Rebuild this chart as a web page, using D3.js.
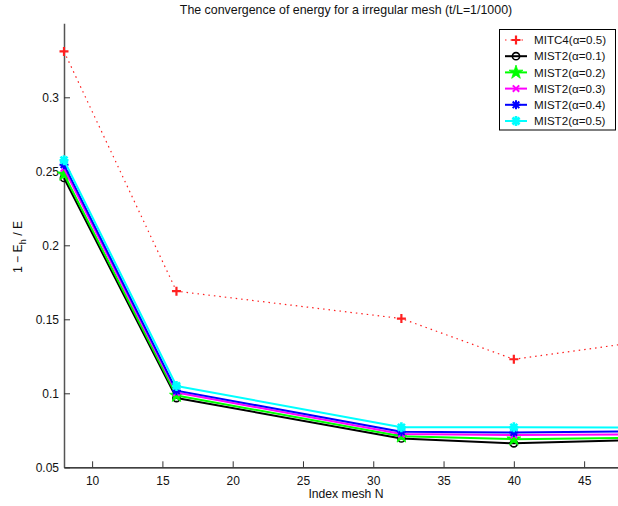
<!DOCTYPE html>
<html>
<head>
<meta charset="utf-8">
<script src="https://cdn.jsdelivr.net/npm/d3@7"></script>
<style>
  html, body { margin: 0; padding: 0; background: #fff; }
  svg { display: block; font-family: "Liberation Sans", Arial, sans-serif; }
</style>
</head>
<body>
<svg id="chart" width="618" height="506"></svg>
<script>
// ---- data ----
const meshN = [8, 16, 32, 40, 48];
const mitc4_a05 = [0.331, 0.169, 0.1505, 0.123, 0.1335];
const mist2_a01 = [0.2455, 0.0968, 0.0695, 0.0662, 0.0682];
const mist2_a02 = [0.2480, 0.0985, 0.0710, 0.0690, 0.0698];
const mist2_a03 = [0.2520, 0.1005, 0.0725, 0.0718, 0.0722];
const mist2_a04 = [0.2545, 0.1018, 0.0740, 0.0735, 0.0743];
const mist2_a05 = [0.2575, 0.1050, 0.0770, 0.0770, 0.0768];
const seriesNames = ["MITC4(α=0.5)", "MIST2(α=0.1)", "MIST2(α=0.2)", "MIST2(α=0.3)", "MIST2(α=0.4)", "MIST2(α=0.5)"];
const xTicks = [10, 15, 20, 25, 30, 35, 40, 45];
const yTicks = [0.05, 0.1, 0.15, 0.2, 0.25, 0.3];
const yTickLabels = ["0.05", "0.1", "0.15", "0.2", "0.25", "0.3"];
const titleText = "The convergence of energy for a irregular mesh (t/L=1/1000)";
const xLabelText = "Index mesh N";

// ---- setup ----
const svg = d3.select("#chart");
const mLeft = 64, mRight = 626.3, mTop = 23.3, mBottom = 467.3;
const x = d3.scaleLinear().domain([8, 48]).range([mLeft, mRight]);
const y = d3.scaleLinear().domain([0.05, 0.35]).range([mBottom, mTop]);

const series = [
  {name: seriesNames[0], values: mitc4_a05, color: "#ff2020", width: 1.2, dash: "1.5,4", marker: "plus"},
  {name: seriesNames[1], values: mist2_a01, color: "#000000", width: 2, dash: null, marker: "circle"},
  {name: seriesNames[2], values: mist2_a02, color: "#00ff00", width: 2, dash: null, marker: "pentagram"},
  {name: seriesNames[3], values: mist2_a03, color: "#ff00ff", width: 2, dash: null, marker: "x"},
  {name: seriesNames[4], values: mist2_a04, color: "#0000ff", width: 2, dash: null, marker: "asterisk"},
  {name: seriesNames[5], values: mist2_a05, color: "#00ffff", width: 2, dash: null, marker: "hexagram"}
];

function drawMarker(g, type, color, cx, cy) {
  const m = g.append("g").attr("transform", `translate(${cx},${cy})`);
  const s = 4.5;
  if (type === "plus") {
    m.append("path").attr("d", `M${-s},0H${s}M0,${-s}V${s}`).attr("stroke", color).attr("stroke-width", 2.2).attr("fill", "none");
  } else if (type === "circle") {
    m.append("circle").attr("r", 3.6).attr("fill", "none").attr("stroke", color).attr("stroke-width", 1.6);
  } else if (type === "pentagram") {
    m.append("path").attr("d", d3.symbol().type(d3.symbolStar).size(60)()).attr("fill", color).attr("stroke", color).attr("stroke-width", 0.8);
  } else if (type === "x") {
    const k = 3.2;
    m.append("path").attr("d", `M${-k},${-k}L${k},${k}M${-k},${k}L${k},${-k}`).attr("stroke", color).attr("stroke-width", 2).attr("fill", "none");
  } else if (type === "asterisk") {
    const k = 3.3;
    m.append("path").attr("d", `M${-s},0H${s}M0,${-s}V${s}M${-k},${-k}L${k},${k}M${-k},${k}L${k},${-k}`).attr("stroke", color).attr("stroke-width", 2).attr("fill", "none");
  } else if (type === "hexagram") {
    const k = 3.5;
    m.append("path").attr("d", `M${-s},0H${s}M0,${-s-0.5}V${s+0.5}M${-k},${-k}L${k},${k}M${-k},${k}L${k},${-k}`).attr("stroke", color).attr("stroke-width", 2.6).attr("fill", "none");
    m.append("circle").attr("r", 2.6).attr("fill", color);
  }
}

// ---- axes (drawn beneath the data) ----
const xAxis = d3.axisBottom(x).tickValues(xTicks).tickSize(-6).tickPadding(9).tickSizeOuter(0).tickFormat(d3.format("d"));
const gx = svg.append("g").attr("transform", `translate(0,${mBottom})`).call(xAxis);
gx.select(".domain").attr("stroke", "#000").attr("stroke-width", 1.2);
gx.selectAll(".tick line").attr("stroke", "#333");
gx.selectAll("text").attr("font-size", 12).attr("fill", "#111");

const yAxis = d3.axisLeft(y).tickValues(yTicks).tickSize(-6).tickPadding(5).tickSizeOuter(0)
  .tickFormat((d, i) => yTickLabels[i]);
const gy = svg.append("g").attr("transform", `translate(${mLeft},0)`).call(yAxis);
gy.select(".domain").attr("stroke", "#555").attr("stroke-width", 1.5);
gy.selectAll(".tick line").attr("stroke", "#333");
gy.selectAll("text").attr("font-size", 12).attr("fill", "#111");

// ---- series ----
const line = d3.line().x((d, i) => x(meshN[i])).y(d => y(d));
const plot = svg.append("g");
series.forEach(s => {
  const p = plot.append("path").datum(s.values)
    .attr("d", line).attr("fill", "none")
    .attr("stroke", s.color).attr("stroke-width", s.width)
    .attr("stroke-linejoin", "round");
  if (s.dash) p.attr("stroke-dasharray", s.dash);
  s.values.forEach((v, i) => drawMarker(plot, s.marker, s.color, x(meshN[i]), y(v)));
});

// ---- labels ----
svg.append("text").attr("x", 346).attr("y", 14).attr("text-anchor", "middle")
  .attr("font-size", 12.4).attr("fill", "#111").text(titleText);
svg.append("text").attr("x", 346).attr("y", 498).attr("text-anchor", "middle")
  .attr("font-size", 12.2).attr("fill", "#111").text(xLabelText);
const yl = svg.append("text").attr("transform", "translate(22,247) rotate(-90)")
  .attr("text-anchor", "middle").attr("font-size", 12.2).attr("fill", "#111");
yl.append("tspan").text("1 − E");
yl.append("tspan").attr("font-size", 9).attr("dy", 3.5).text("h");
yl.append("tspan").attr("dy", -3.5).text(" / E");

// ---- legend ----
const lg = svg.append("g");
lg.append("rect").attr("x", 499.5).attr("y", 29.5).attr("width", 116).attr("height", 100.5)
  .attr("fill", "#fff").attr("stroke", "#000").attr("stroke-width", 1);
series.forEach((s, i) => {
  const ly = 40 + i * 16.2;
  const l = lg.append("line").attr("x1", 505).attr("x2", 527).attr("y1", ly).attr("y2", ly)
    .attr("stroke", s.color).attr("stroke-width", s.width);
  if (s.dash) l.attr("stroke-dasharray", s.dash);
  drawMarker(lg, s.marker, s.color, 516, ly);
  lg.append("text").attr("x", 534).attr("y", ly + 4.2).attr("font-size", 11.6).attr("fill", "#111").text(s.name);
});
</script>
</body>
</html>
